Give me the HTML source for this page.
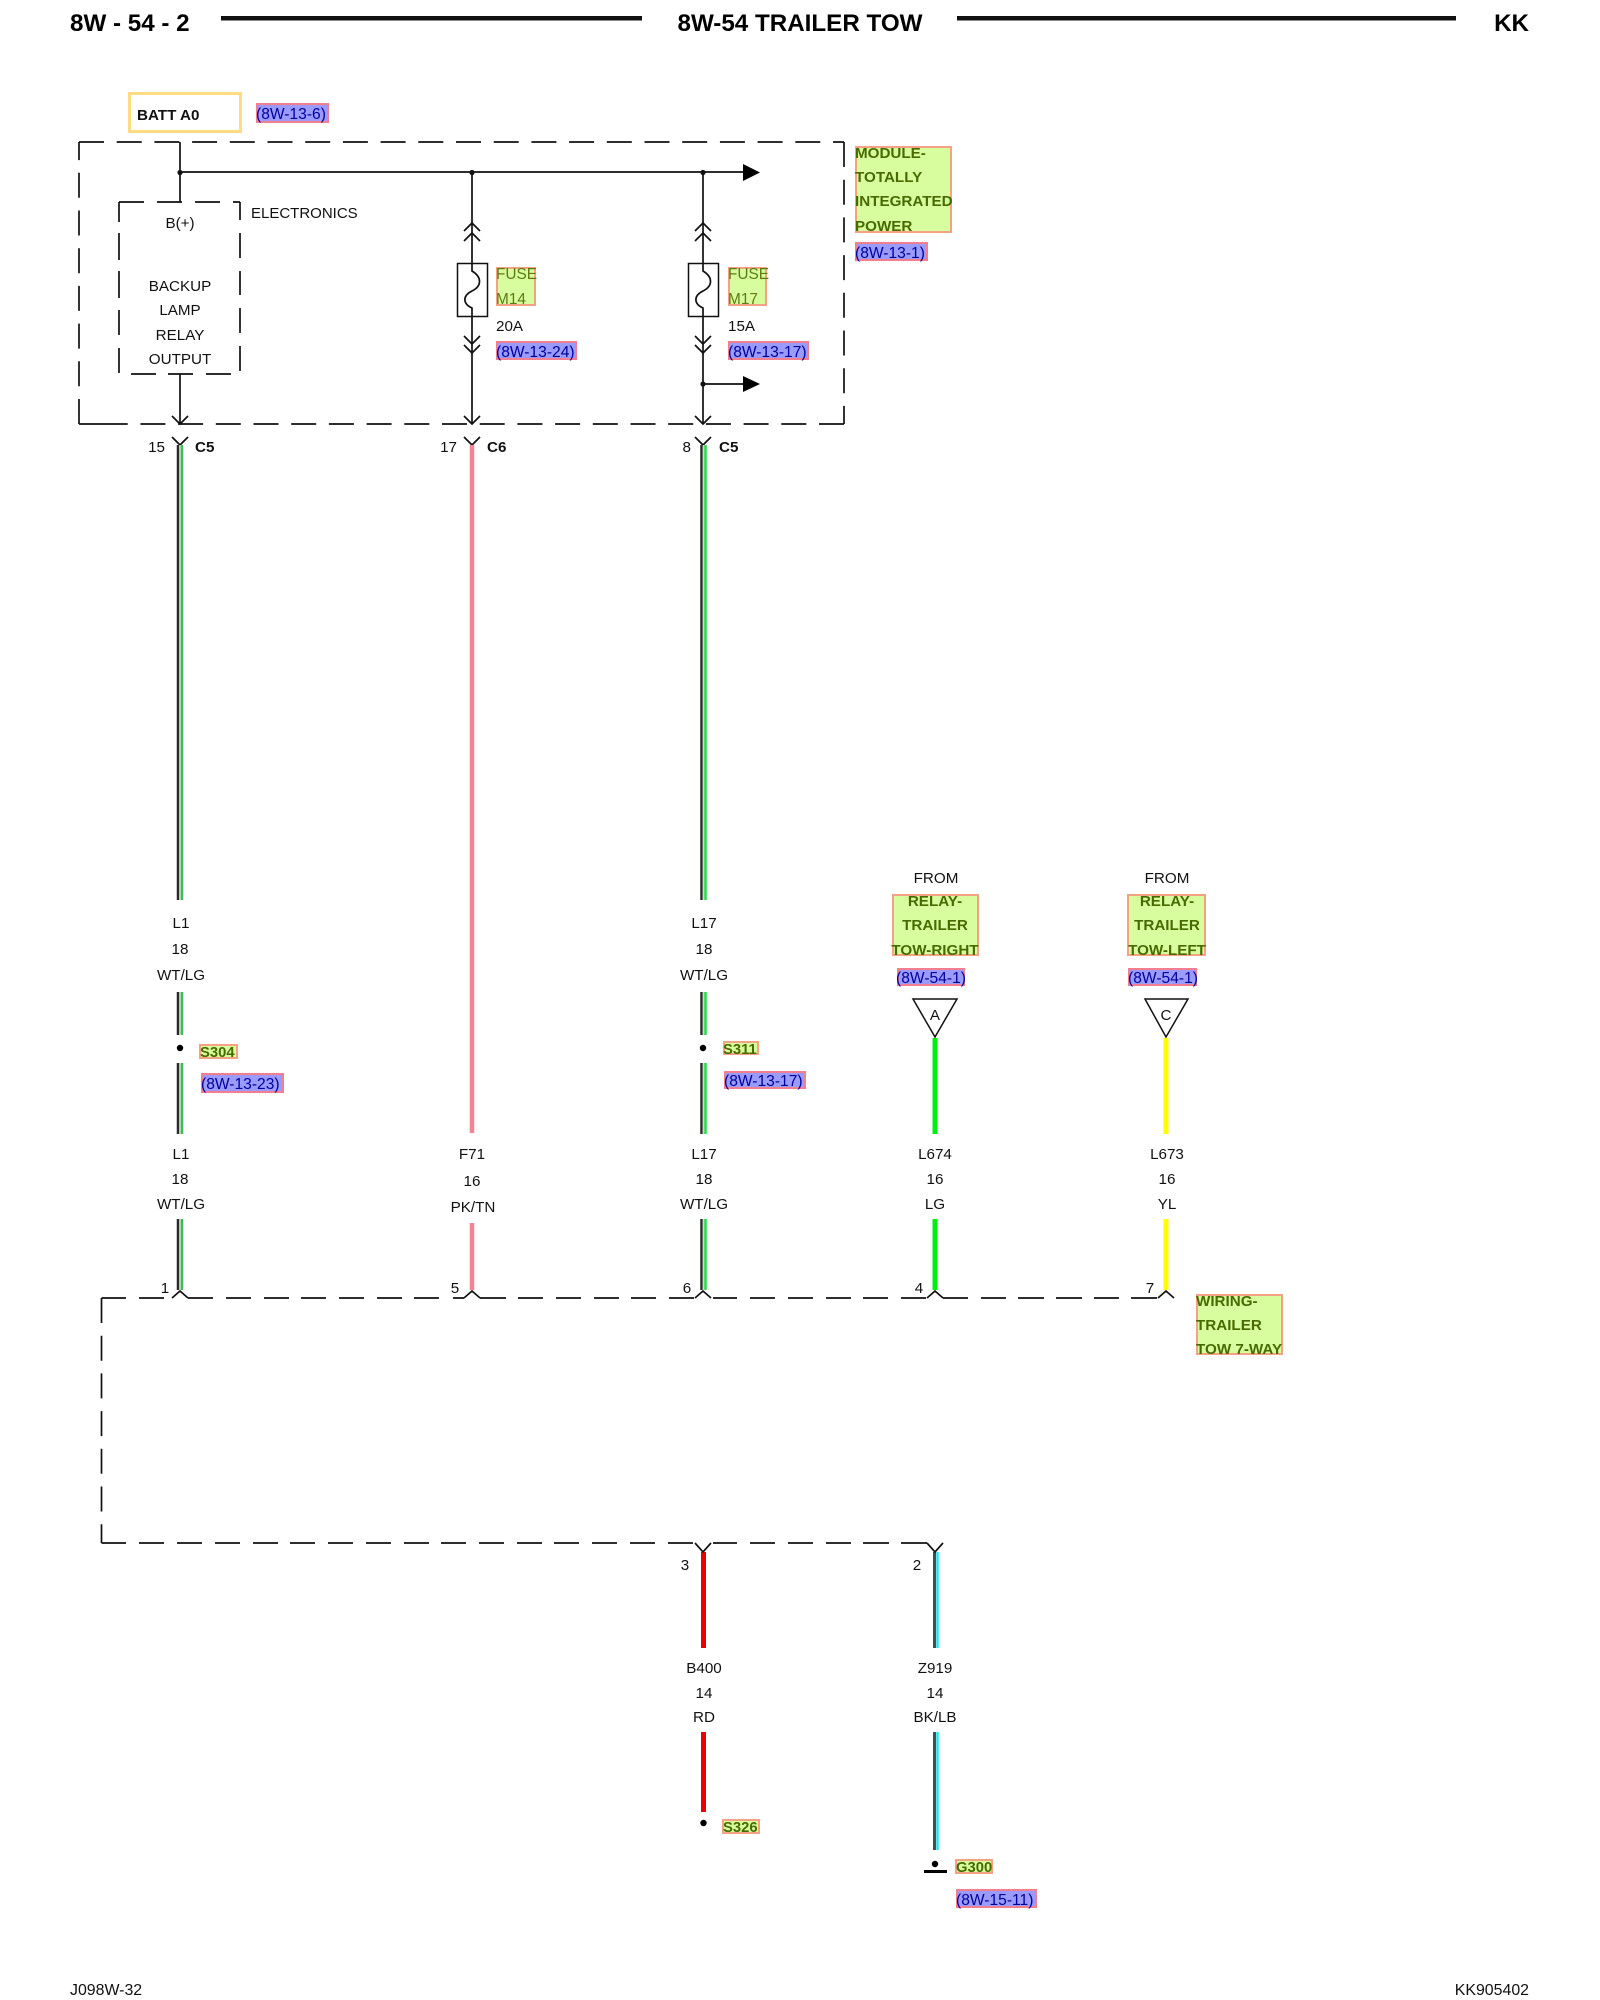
<!DOCTYPE html>
<html><head><meta charset="utf-8"><style>
html,body{margin:0;padding:0;background:#fff}
svg{display:block}
text{font-family:"Liberation Sans",Arial,sans-serif;font-size:15.2px;fill:#111}
.m{text-anchor:middle}.e{text-anchor:end}
.b{font-weight:bold}
.h{font-weight:bold;font-size:24.2px;fill:#000}
.g{font-weight:bold;fill:#486a00;font-size:15.2px}
.gl{fill:#5e7a10;font-size:15.4px}
.r{fill:#000099;font-size:15.6px}
.s{font-size:14.8px}
.f{font-size:15.9px}
.gb{fill:#d8fd9f;stroke:#f5a184;stroke-width:2}
.bb{fill:#9a9aff;stroke:#f27f90;stroke-width:2}
.l{fill:none;stroke:#111;stroke-width:1.7}
</style></head><body>
<svg width="1600" height="2000" viewBox="0 0 1600 2000" xmlns="http://www.w3.org/2000/svg">
<rect width="1600" height="2000" fill="#fff"/>
<!-- header -->
<text x="70" y="31" class="h">8W - 54 - 2</text>
<text x="800" y="31" class="h m">8W-54 TRAILER TOW</text>
<text x="1529" y="31" class="h e">KK</text>
<rect x="221" y="16" width="421" height="4.5" fill="#111"/>
<rect x="957" y="16" width="499" height="4.5" fill="#111"/>
<text x="70" y="1995" class="f">J098W-32</text>
<text x="1529" y="1995" class="e f">KK905402</text>

<!-- BATT -->
<rect x="129.5" y="93.5" width="111" height="38" fill="#fff" stroke="#ffdc82" stroke-width="3"/>
<text x="137" y="120" class="b">BATT A0</text>
<rect x="257" y="104" width="71" height="18" class="bb"/>
<text x="256" y="119" class="r">(8W-13-6)</text>

<!-- outer dashed -->
<path class="l" stroke-dasharray="25 12.7" d="M79 142H844"/>
<path class="l" stroke-dasharray="25 12.7" d="M844 142V424"/>
<path class="l" stroke-dasharray="25 12.7" d="M844 424H127"/>
<path class="l" d="M127 424H79"/>
<path class="l" stroke-dasharray="25 12.7" d="M79 424V142"/>

<!-- inner dashed -->
<path class="l" d="M119 202H144M157 202H182M195 202H220M233 202H240M240 202V220M240 233V258M240 271V295M240 308V333M240 346V371M119 202V222M119 233V260M119 271V298M119 310V335M119 348V373M131 374H156M168 374H193M206 374H231"/>
<text x="251" y="218" style="font-size:15px">ELECTRONICS</text>
<text x="180" y="228" class="m">B(+)</text>
<text x="180" y="291" class="m">BACKUP</text>
<text x="180" y="315" class="m">LAMP</text>
<text x="180" y="340" class="m">RELAY</text>
<text x="180" y="364" class="m">OUTPUT</text>

<!-- wiring in module -->
<path class="l" d="M180 142V202M180 374V424M180 172H743M472 172V424M703 172V424M703 384H743"/>
<circle cx="180" cy="172.5" r="2.6" fill="#111"/><circle cx="472" cy="172.5" r="2.6" fill="#111"/><circle cx="703" cy="172.5" r="2.6" fill="#111"/><circle cx="703" cy="384" r="2.6" fill="#111"/>
<polygon points="743,164 760,172.5 743,181" fill="#000"/>
<polygon points="743,376 760,384 743,392" fill="#000"/>

<!-- chevrons -->
<path class="l" d="M464 231L472 223L480 231M464 241L472 233L480 241M464 336L472 344L480 336M464 345L472 353L480 345M464 416L472 424L480 416M172 416L180 424L188 416
M695 231L703 223L711 231M695 241L703 233L711 241M695 336L703 344L711 336M695 345L703 353L711 345M695 416L703 424L711 416"/>
<!-- connectors -->
<path class="l" d="M172 437L180 445L188 437M464 437L472 445L480 437M695 437L703 445L711 437"/>

<!-- fuses -->
<rect x="457.5" y="263.5" width="30" height="53" fill="#fff" stroke="#111" stroke-width="1.5"/>
<path class="l" stroke-width="1.5" d="M472 263V271C482 277 482 286 472 291C462 296 463 304 472 308V316"/>
<rect x="688.5" y="263.5" width="30" height="53" fill="#fff" stroke="#111" stroke-width="1.5"/>
<path class="l" d="M703 263V271C713 277 713 286 703 291C693 296 694 304 703 308V316"/>

<rect x="497" y="268" width="38" height="37" class="gb"/>
<text x="496" y="279" class="gl">FUSE</text><text x="496" y="304" class="gl">M14</text>
<text x="496" y="331">20A</text>
<rect x="497" y="342" width="79" height="17" class="bb"/>
<text x="496" y="357" class="r">(8W-13-24)</text>
<rect x="729" y="268" width="37" height="37" class="gb"/>
<text x="728" y="279" class="gl">FUSE</text><text x="728" y="304" class="gl">M17</text>
<text x="728" y="331">15A</text>
<rect x="729" y="342" width="79" height="17" class="bb"/>
<text x="728" y="357" class="r">(8W-13-17)</text>

<rect x="856" y="147" width="95" height="85" class="gb"/>
<text x="855" y="158" class="g">MODULE-</text>
<text x="855" y="182" class="g">TOTALLY</text>
<text x="855" y="206" class="g">INTEGRATED</text>
<text x="855" y="231" class="g">POWER</text>
<rect x="856" y="243" width="71" height="17" class="bb"/>
<text x="855" y="258" class="r">(8W-13-1)</text>

<!-- connector labels -->
<text x="165" y="452" class="e">15</text><text x="195" y="452" class="b">C5</text>
<text x="457" y="452" class="e">17</text><text x="487" y="452" class="b">C6</text>
<text x="691" y="452" class="e">8</text><text x="719" y="452" class="b">C5</text>

<!-- wires col1 -->
<path fill="none" stroke="#2a2a2a" stroke-width="2.5" d="M178 445V900M178 992V1035M178 1063V1134M178 1219V1290"/>
<path fill="none" stroke="#cfd8cf" stroke-width="1.5" d="M180 445V900M180 992V1035M180 1063V1134M180 1219V1290"/>
<path fill="none" stroke="#3dbb55" stroke-width="2.5" d="M182 445V900M182 992V1035M182 1063V1134M182 1219V1290"/>
<!-- wires col3 -->
<path fill="none" stroke="#2a2a2a" stroke-width="2.5" d="M701.5 445V900M701.5 992V1035M701.5 1063V1134M701.5 1219V1290"/>
<path fill="none" stroke="#c8e0c8" stroke-width="1.5" d="M703.5 445V900M703.5 992V1035M703.5 1063V1134M703.5 1219V1290"/>
<path fill="none" stroke="#22dd44" stroke-width="2.5" d="M705.5 445V900M705.5 992V1035M705.5 1063V1134M705.5 1219V1290"/>
<!-- pink -->
<path fill="none" stroke="#f28492" stroke-width="4.5" d="M472 445V1133M472 1223V1290"/>
<!-- green, yellow -->
<path fill="none" stroke="#00ee11" stroke-width="5" d="M935 1038V1134M935 1219V1290"/>
<path fill="none" stroke="#ffff00" stroke-width="5" d="M1166 1038V1134M1166 1219V1290"/>
<!-- red -->
<path fill="none" stroke="#ee0000" stroke-width="5" d="M703.5 1552V1648M703.5 1732V1812"/>
<!-- grey/cyan -->
<path fill="none" stroke="#444c55" stroke-width="3" d="M934.5 1552V1648M934.5 1732V1850"/>
<path fill="none" stroke="#22e8e8" stroke-width="2.5" d="M937.5 1552V1648M937.5 1732V1850"/>

<!-- wire labels -->
<text x="181" y="928" class="m">L1</text><text x="180" y="954" class="m">18</text><text x="181" y="980" class="m">WT/LG</text>
<text x="181" y="1159" class="m">L1</text><text x="180" y="1184" class="m">18</text><text x="181" y="1209" class="m">WT/LG</text>
<text x="472" y="1159" class="m">F71</text><text x="472" y="1186" class="m">16</text><text x="473" y="1212" class="m">PK/TN</text>
<text x="704" y="928" class="m">L17</text><text x="704" y="954" class="m">18</text><text x="704" y="980" class="m">WT/LG</text>
<text x="704" y="1159" class="m">L17</text><text x="704" y="1184" class="m">18</text><text x="704" y="1209" class="m">WT/LG</text>
<text x="935" y="1159" class="m">L674</text><text x="935" y="1184" class="m">16</text><text x="935" y="1209" class="m">LG</text>
<text x="1167" y="1159" class="m">L673</text><text x="1167" y="1184" class="m">16</text><text x="1167" y="1209" class="m">YL</text>
<text x="704" y="1673" class="m">B400</text><text x="704" y="1698" class="m">14</text><text x="704" y="1722" class="m">RD</text>
<text x="935" y="1673" class="m">Z919</text><text x="935" y="1698" class="m">14</text><text x="935" y="1722" class="m">BK/LB</text>

<!-- splices -->
<circle cx="180" cy="1048" r="3.2" fill="#000"/><circle cx="703" cy="1048" r="3.2" fill="#000"/>
<rect x="200" y="1045" width="37" height="13" class="gb" stroke-width="1.5"/>
<text x="200" y="1057" class="g s">S304</text>
<rect x="202" y="1074" width="81" height="18" class="bb"/>
<text x="201" y="1089" class="r">(8W-13-23)</text>
<rect x="724" y="1042" width="34" height="12" class="gb" stroke-width="1.5"/>
<text x="723" y="1054" class="g s">S311</text>
<rect x="725" y="1072" width="80" height="16" class="bb"/>
<text x="724" y="1086" class="r">(8W-13-17)</text>

<!-- FROM boxes -->
<text x="936" y="883" class="m">FROM</text>
<rect x="893" y="895" width="85" height="60" class="gb"/>
<text x="935" y="906" class="g m">RELAY-</text><text x="935" y="930" class="g m">TRAILER</text><text x="935" y="955" class="g m">TOW-RIGHT</text>
<rect x="898" y="969" width="66" height="16" class="bb"/>
<text x="931" y="983" class="r m">(8W-54-1)</text>
<polygon points="913,999 957,999 935,1037" fill="#fff" stroke="#111" stroke-width="1.5"/>
<text x="935" y="1020" class="m">A</text>

<text x="1167" y="883" class="m">FROM</text>
<rect x="1128" y="895" width="77" height="60" class="gb"/>
<text x="1167" y="906" class="g m">RELAY-</text><text x="1167" y="930" class="g m">TRAILER</text><text x="1167" y="955" class="g m">TOW-LEFT</text>
<rect x="1129" y="969" width="67" height="16" class="bb"/>
<text x="1163" y="983" class="r m">(8W-54-1)</text>
<polygon points="1145,999 1188,999 1166,1037" fill="#fff" stroke="#111" stroke-width="1.5"/>
<text x="1166" y="1020" class="m">C</text>

<!-- harness dashed -->
<path class="l" d="M101.5 1298H126M139 1298H164M188 1298H213M226 1298H251M264 1298H289M301 1298H326M339 1298H364M377 1298H402M414 1298H439M453 1298H464M480 1298H506M518 1298H543M556 1298H581M594 1298H619M631 1298H656M669 1298H694M713 1298H737M750 1298H775M788 1298H813M826 1298H851M863 1298H888M901 1298H926M943 1298H968M981 1298H1006M1018 1298H1044M1056 1298H1082M1094 1298H1119M1131 1298H1157"/>
<path class="l" d="M172 1298L180 1291L188 1298M464 1298L472 1291L480 1298M695 1298L703 1291L711 1298M927 1298L935 1291L943 1298M1158 1298L1166 1291L1174 1298"/>
<path class="l" stroke-dasharray="25 12.7" d="M101.5 1298V1543"/>
<path class="l" d="M101.5 1543H126M139 1543H164M177 1543H202M215 1543H240M253 1543H278M290 1543H315M328 1543H353M366 1543H391M404 1543H429M441 1543H466M479 1543H504M517 1543H542M554 1543H579M592 1543H617M630 1543H655M668 1543H693M713 1543H737M750 1543H775M788 1543H813M826 1543H851M863 1543H889M901 1543H927"/>
<path class="l" d="M695 1543L703 1552L711 1543M927 1543L935 1552L943 1543"/>

<text x="165" y="1293" class="m">1</text>
<text x="455" y="1293" class="m">5</text>
<text x="687" y="1293" class="m">6</text>
<text x="919" y="1293" class="m">4</text>
<text x="1150" y="1293" class="m">7</text>
<text x="685" y="1570" class="m">3</text>
<text x="917" y="1570" class="m">2</text>

<rect x="1197" y="1295" width="85" height="59" class="gb"/>
<text x="1196" y="1306" class="g">WIRING-</text><text x="1196" y="1330" class="g">TRAILER</text><text x="1196" y="1354" class="g">TOW 7-WAY</text>

<!-- bottom -->
<circle cx="703.5" cy="1823" r="3.2" fill="#000"/>
<rect x="723" y="1820" width="36" height="13" class="gb" stroke-width="1.5"/>
<text x="723" y="1832" class="g s">S326</text>
<circle cx="935" cy="1864" r="3.2" fill="#000"/>
<rect x="924" y="1870" width="23" height="3" fill="#000"/>
<rect x="956" y="1860" width="36" height="13" class="gb" stroke-width="1.5"/>
<text x="956" y="1872" class="g s">G300</text>
<rect x="957" y="1890" width="79" height="17" class="bb"/>
<text x="956" y="1905" class="r">(8W-15-11)</text>
</svg>
</body></html>
